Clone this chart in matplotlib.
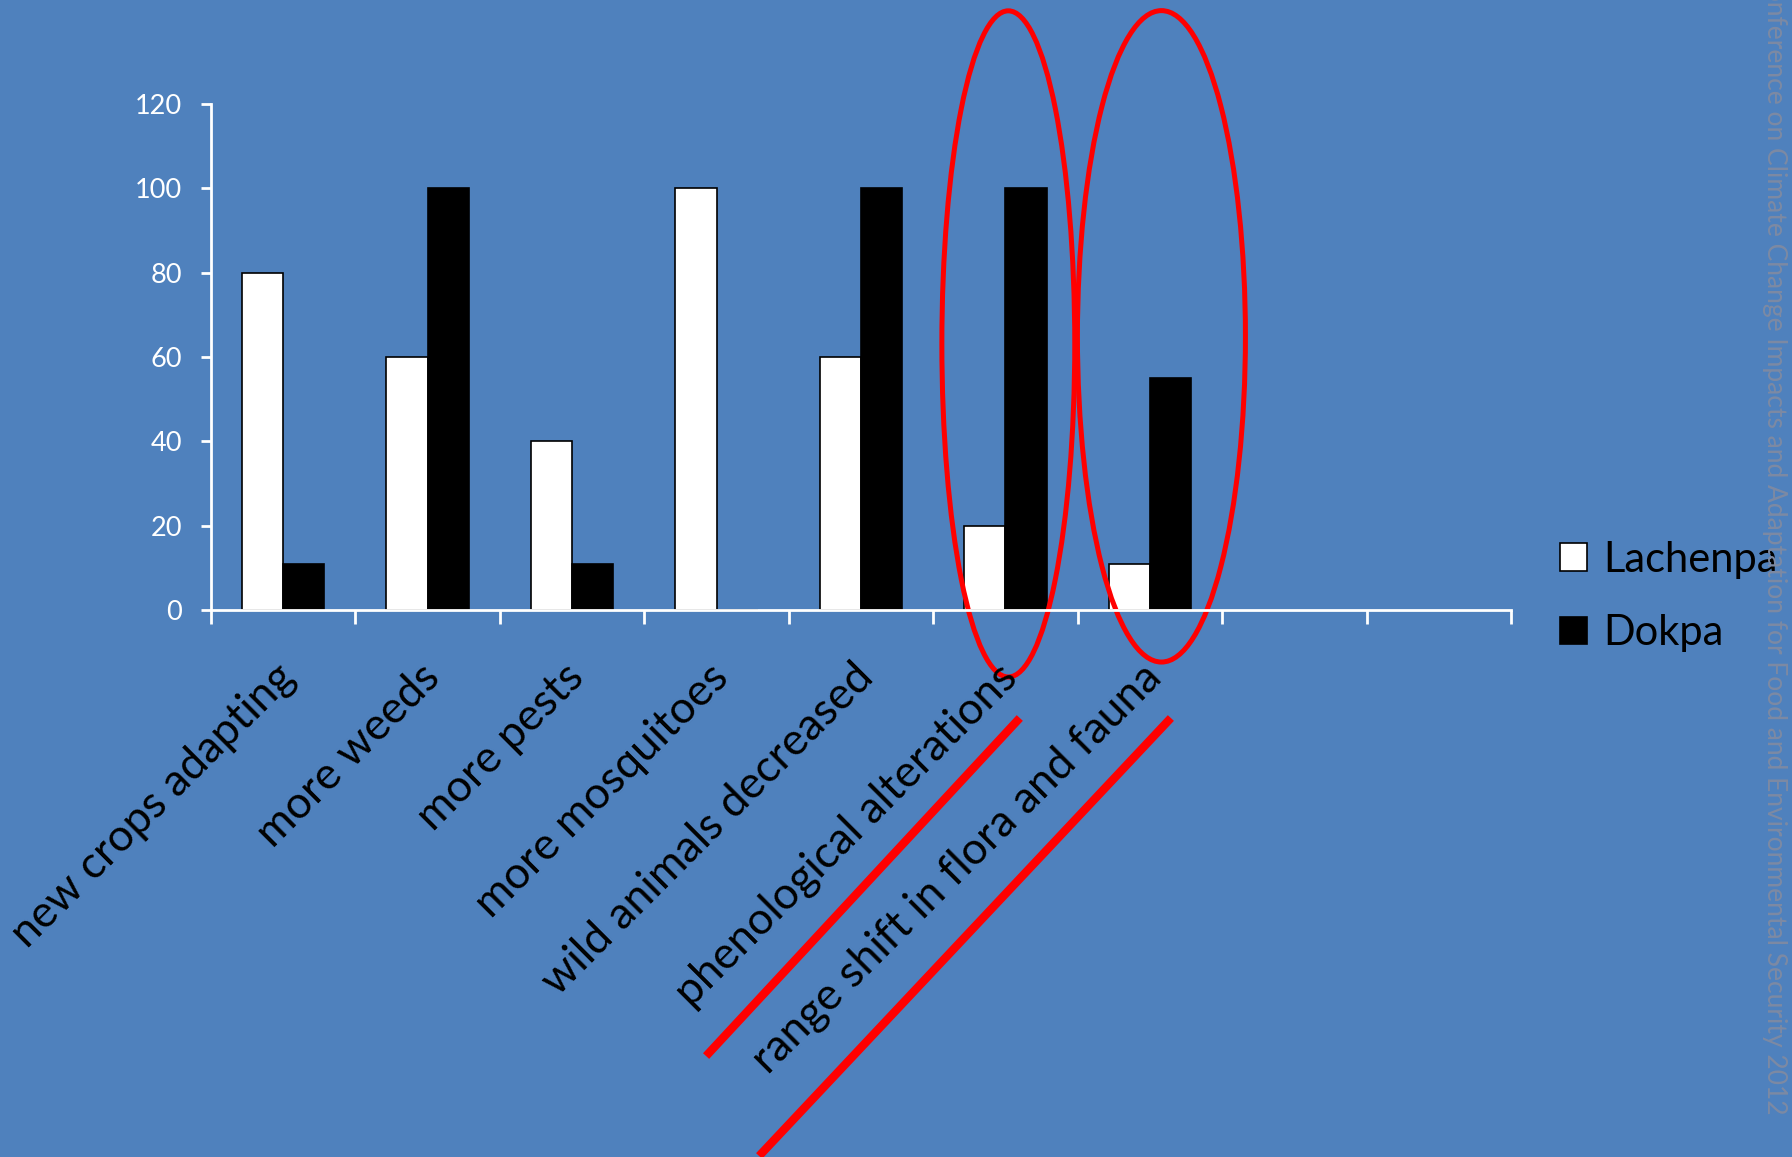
import numpy as np
import matplotlib
matplotlib.use("Agg")
import matplotlib.pyplot as plt
from matplotlib.patches import Ellipse
from matplotlib.lines import Line2D

# Data
categories = ["new crops adapting", "more weeds", "more pests", "more mosquitoes",
              "wild animals decreased", "phenological alterations",
              "range shift in flora and fauna"]
lachenpa = [80, 60, 40, 100, 60, 20, 11]
dokpa = [11, 100, 11, 0, 100, 100, 55]
n_slots = 9  # axis has two empty category slots on the right
yticks = [0, 20, 40, 60, 80, 100, 120]

bg = "#4F81BD"
plt.rcParams["font.family"] = ["Lato", "DejaVu Sans"]

fig = plt.figure(figsize=(17.92, 11.57), dpi=100, facecolor=bg)
ax = fig.add_axes([0.1177, 0.4728, 0.8432 - 0.1177, 0.9101 - 0.4728])
ax.set_facecolor(bg)

x = np.arange(len(categories))
w = 0.285
ax.bar(x - w / 2, lachenpa, w, color="white", edgecolor="black", linewidth=1.2, label="Lachenpa")
ax.bar(x + w / 2, dokpa, w, color="black", edgecolor="black", linewidth=1.2, label="Dokpa")

ax.set_xlim(-0.5, n_slots - 0.5)
ax.set_ylim(0, 120)
ax.set_yticks(yticks)
ax.set_xticks(np.arange(-0.5, n_slots, 1))
ax.set_xticklabels([])

for s in ["top", "right"]:
    ax.spines[s].set_visible(False)
for s in ["left", "bottom"]:
    ax.spines[s].set_color("white")
    ax.spines[s].set_linewidth(2)
ax.tick_params(axis="y", colors="white", labelsize=19.5, length=7, width=2, pad=14)
ax.tick_params(axis="x", colors="white", length=10, width=2)

# rotated category labels
for i, name in enumerate(categories):
    ax.annotate(name, xy=(i, 0), xycoords=("data", "axes fraction"),
                xytext=(4, -44), textcoords="offset points",
                rotation=45, rotation_mode="anchor", ha="right", va="center",
                fontsize=32, color="black", annotation_clip=False)

leg = ax.legend(loc="upper left", bbox_to_anchor=(0.861, 0.547), bbox_transform=fig.transFigure,
                frameon=False, fontsize=30, handlelength=0.65, handleheight=0.65,
                handletextpad=0.4, labelspacing=0.85, borderaxespad=0)

# red highlight ellipses
ax.add_patch(Ellipse((5.02, 63.1), 0.92, 158, fill=False, edgecolor="red", linewidth=3.6, clip_on=False))
ax.add_patch(Ellipse((6.08, 64.9), 1.163, 154.5, fill=False, edgecolor="red", linewidth=3.6, clip_on=False))

# red underlines below the labels
fig.add_artist(Line2D([0.3956, 0.5675], [0.0899, 0.3768], color="red", linewidth=6, transform=fig.transFigure))
fig.add_artist(Line2D([0.4252, 0.6518], [0.0035, 0.3768], color="red", linewidth=6, transform=fig.transFigure))

# watermark along the right edge
fig.text(0.9905, 0.037,
         "International Conference on Climate Change Impacts and Adaptation for Food and Environmental Security 2012",
         rotation=-90, rotation_mode="anchor", ha="right", va="center",
         fontsize=19, color="#7d8aa3")

fig.savefig("out.png", dpi=100, facecolor=bg)
